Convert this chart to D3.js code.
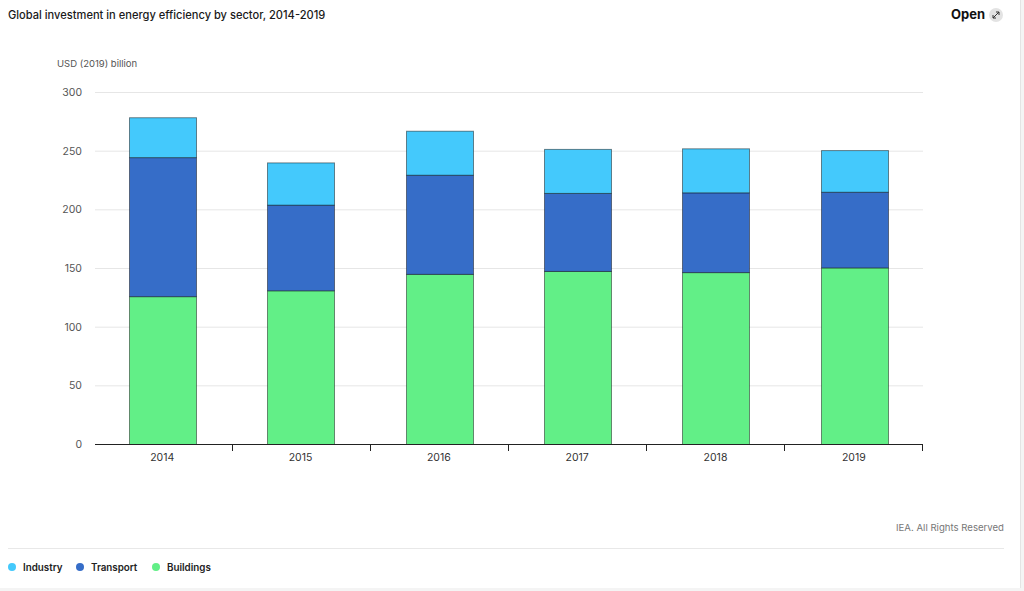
<!DOCTYPE html>
<html>
<head>
<meta charset="utf-8">
<script src="https://cdn.jsdelivr.net/npm/d3@7"></script>
<style>
  html, body { margin: 0; padding: 0; background: #f4f4f4; }
  svg { display: block; font-family: Inter, "Open Sans", sans-serif; }
</style>
</head>
<body>
<div id="chart"></div>
<script>
const years = ["2014", "2015", "2016", "2017", "2018", "2019"];
const sectors = ["Buildings", "Transport", "Industry"];
const buildings = [126, 131, 145, 147.5, 146.5, 150.5];
const transport = [118.5, 73, 84.5, 66.5, 68, 64.5];
const industry = [34, 36, 37.5, 37.5, 37.5, 35.5];
const yTicks = [0, 50, 100, 150, 200, 250, 300];
const legendItems = ["Industry", "Transport", "Buildings"];

const colors = { Industry: "#44c9fc", Transport: "#366dc8", Buildings: "#62ef87" };

const W = 1024, H = 591;
const margin = { top: 92, right: 101, bottom: 147, left: 95 },
    width = W - margin.left - margin.right,
    height = H - margin.top - margin.bottom;

const root = d3.select("#chart").append("svg")
    .attr("width", W)
    .attr("height", H);

// white card
root.append("rect")
    .attr("x", 0).attr("y", 0)
    .attr("width", 1020).attr("height", 588)
    .attr("fill", "#fff");
root.append("line")
    .attr("x1", 1020.5).attr("x2", 1020.5).attr("y1", 0).attr("y2", 588)
    .attr("stroke", "#e4e4e4");

root.append("text")
    .attr("x", 8).attr("y", 19)
    .attr("font-size", 11.1).attr("font-weight", 500).attr("fill", "#1a1a1a")
    .text("Global investment in energy efficiency by sector, 2014-2019");

root.append("text")
    .attr("x", 985).attr("y", 19)
    .attr("text-anchor", "end")
    .attr("font-size", 13).attr("font-weight", 700).attr("fill", "#111")
    .text("Open");
root.append("circle")
    .attr("cx", 996).attr("cy", 15).attr("r", 7)
    .attr("fill", "#e3e3e3");
root.append("path")
    .attr("d", "M993,18 L999,12 M996,12 L999,12 L999,15 M993,15 L993,18 L996,18")
    .attr("stroke", "#333").attr("stroke-width", 1).attr("fill", "none");

root.append("text")
    .attr("x", 57).attr("y", 67)
    .attr("font-size", 9.5).attr("fill", "#555")
    .text("USD (2019) billion");

const svg = root.append("g")
    .attr("transform", "translate(" + margin.left + "," + margin.top + ")");

const x = d3.scaleBand().domain(years).range([0, width]).paddingInner(0.514).paddingOuter(0.25);
const xAxisScale = d3.scaleBand().domain(years).range([0, width]);
const y = d3.scaleLinear().domain([0, 300]).range([height, 0]);

// gridlines
svg.append("g")
    .selectAll("line")
    .data(yTicks.filter(d => d > 0))
    .enter().append("line")
    .attr("x1", 0).attr("x2", width)
    .attr("y1", d => y(d) + 0.5).attr("y2", d => y(d) + 0.5)
    .attr("stroke", "#e6e6e6");

// y tick labels
svg.append("g")
    .selectAll("text")
    .data(yTicks)
    .enter().append("text")
    .attr("x", -13)
    .attr("y", d => y(d) + 4)
    .attr("text-anchor", "end")
    .attr("font-size", 10.5).attr("fill", "#555")
    .text(d => d);

const table = years.map((yr, i) => ({
  year: yr, Buildings: buildings[i], Transport: transport[i], Industry: industry[i]
}));
const stacked = d3.stack().keys(sectors)(table);

svg.append("g")
    .selectAll("g")
    .data(stacked)
    .enter().append("g")
    .attr("fill", d => colors[d.key])
    .selectAll("rect")
    .data(d => d)
    .enter().append("rect")
    .attr("x", d => Math.floor(x(d.data.year)) + 0.5)
    .attr("y", d => y(d[1]) + 0.5)
    .attr("width", Math.round(x.bandwidth()))
    .attr("height", d => y(d[0]) - y(d[1]))
    .attr("stroke", "rgba(0,0,0,0.45)")
    .attr("stroke-width", 1);

// x axis
const xAxis = svg.append("g")
    .attr("transform", "translate(0," + height + ")");
xAxis.append("line")
    .attr("x1", 0).attr("x2", width)
    .attr("y1", 0.5).attr("y2", 0.5)
    .attr("stroke", "#222");
xAxis.selectAll(".tick")
    .data(years.slice(1).concat(["end"]))
    .enter().append("line")
    .attr("x1", (d, i) => Math.round(xAxisScale.step() * (i + 1)) - 0.5)
    .attr("x2", (d, i) => Math.round(xAxisScale.step() * (i + 1)) - 0.5)
    .attr("y1", 0).attr("y2", 7)
    .attr("stroke", "#222");
xAxis.selectAll("text")
    .data(years)
    .enter().append("text")
    .attr("x", d => x(d) + x.bandwidth() / 2 - 1)
    .attr("y", 17)
    .attr("text-anchor", "middle")
    .attr("font-size", 10.5).attr("fill", "#333")
    .text(d => d);

root.append("text")
    .attr("x", 1004).attr("y", 531)
    .attr("text-anchor", "end")
    .attr("font-size", 9.6).attr("fill", "#777")
    .text("IEA. All Rights Reserved");

root.append("line")
    .attr("x1", 8).attr("x2", 1004)
    .attr("y1", 548.5).attr("y2", 548.5)
    .attr("stroke", "#e8e8e8");

const legendX = [12, 80, 156];
const legend = root.append("g")
    .selectAll("g")
    .data(legendItems)
    .enter().append("g")
    .attr("transform", (d, i) => "translate(" + legendX[i] + ",567)");
legend.append("circle")
    .attr("r", 4)
    .attr("fill", d => colors[d]);
legend.append("text")
    .attr("x", 11).attr("y", 3.5)
    .attr("font-size", 9.8).attr("font-weight", 600).attr("fill", "#222")
    .text(d => d);
</script>
</body>
</html>
